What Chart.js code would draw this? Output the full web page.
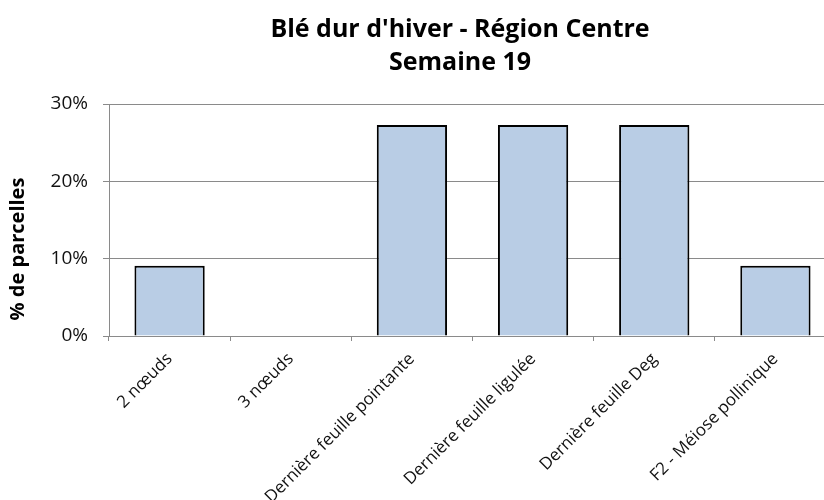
<!DOCTYPE html>
<html>
<head>
<meta charset="utf-8">
<script src="https://cdn.jsdelivr.net/npm/chart.js@4/dist/chart.umd.min.js"></script>
<style>
html,body{margin:0;padding:0;background:#fff;overflow:hidden;width:824px;height:500px;}
canvas{display:block;}
</style>
</head>
<body>
<canvas id="c" width="846" height="500"></canvas>
<script>
const categories = ["2 nœuds","3 nœuds","Dernière feuille pointante","Dernière feuille ligulée","Dernière feuille Deg","F2 - Méiose pollinique"];
const values = [9.09, 0, 27.27, 27.27, 27.27, 9.09];
const yTicks = [0, 10, 20, 30];
const titleLines = ["Blé dur d'hiver - Région Centre","Semaine 19"];
const yTitle = "% de parcelles";

const FONT = "'Open Sans', sans-serif";

const textPlugin = {
  id: 'texts',
  afterDraw(chart) {
    const ctx = chart.ctx;
    ctx.save();
    ctx.fillStyle = '#000';
    ctx.textAlign = 'center';
    ctx.textBaseline = 'middle';
    ctx.font = "bold 25px " + FONT;
    ctx.fillText(titleLines[0], 460, 30);
    ctx.fillText(titleLines[1], 460, 63);
    ctx.translate(18, 249);
    ctx.rotate(-Math.PI/2);
    ctx.font = "bold 20px " + FONT;
    ctx.fillText(yTitle, 0, 0);
    ctx.restore();
  }
};

new Chart(document.getElementById('c'), {
  type: 'bar',
  data: {
    labels: categories,
    datasets: [{
      data: values,
      backgroundColor: '#B9CDE5',
      borderColor: '#000',
      borderWidth: 2,
      categoryPercentage: 1,
      barPercentage: 0.58
    }]
  },
  options: {
    responsive: false,
    animation: false,
    layout: { padding: { left: 0, right: 10, top: 104, bottom: 0 } },
    plugins: { legend: { display: false }, tooltip: { enabled: false }, title: { display: false } },
    scales: {
      x: {
        offset: true,
        grid: { offset: true, drawOnChartArea: false, drawTicks: true, tickLength: 5, color: '#8a8a8a', lineWidth: 1 },
        border: { display: true, color: '#8a8a8a', width: 1 },
        ticks: { minRotation: 45, maxRotation: 45, autoSkip: false, padding: 8, color: '#111', font: { family: FONT, size: 17 } },
        afterFit(scale) { scale.height = 164; }
      },
      y: {
        min: 0, max: 30,
        afterBuildTicks(scale) { scale.ticks = yTicks.map(v => ({ value: v })); },
        grid: { color: '#8a8a8a', lineWidth: 1, drawTicks: true, tickLength: 6 },
        border: { display: true, color: '#8a8a8a', width: 1 },
        ticks: { padding: 15, color: '#111', font: { family: FONT, size: 19 }, callback: v => v + '%' },
        afterFit(scale) { scale.width = 109; }
      }
    }
  },
  plugins: [textPlugin]
});
</script>
</body>
</html>
